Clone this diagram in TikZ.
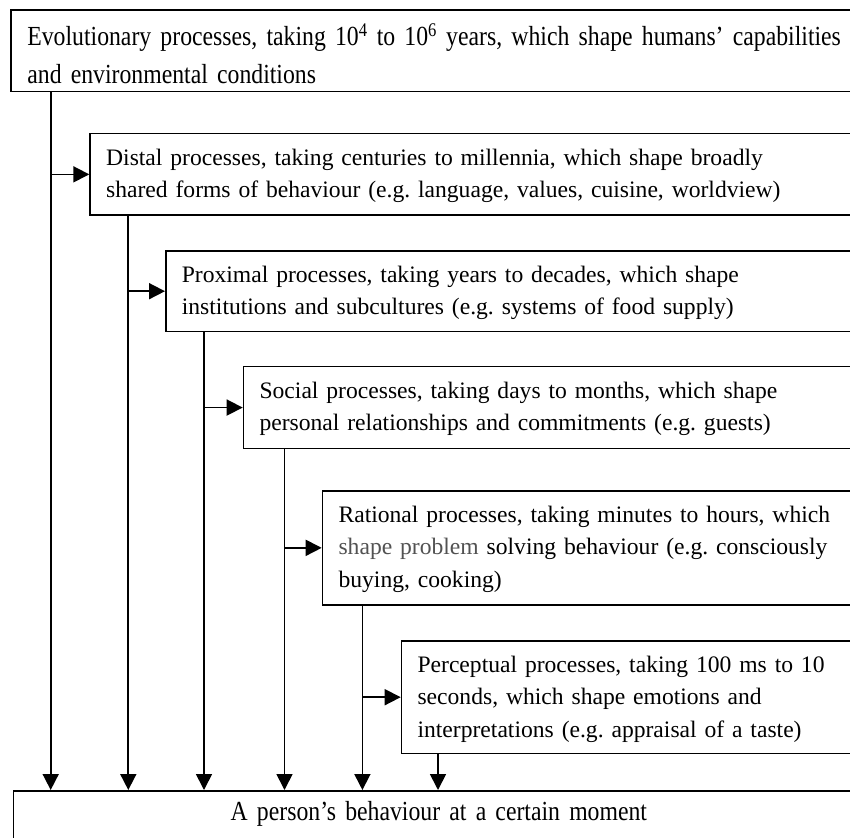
\documentclass[tikz,border=0pt]{standalone}
\usepackage{fontspec}
\setmainfont{Liberation Serif}
\newfontfamily\narrowserif[FakeStretch=0.86]{Liberation Serif}
\usetikzlibrary{arrows.meta}
\definecolor{dimtext}{rgb}{0.32,0.32,0.32}
\frenchspacing
\begin{document}
\begin{tikzpicture}[x=1pt,y=-1pt,
  procbox/.style={draw, line width=1.7pt, anchor=north west,
    inner xsep=16pt, inner ysep=0pt, text width=900pt, align=left,
    font=\fontsize{23.6pt}{32.5pt}\selectfont, text height=31.5pt},
  widebox/.style={draw, line width=1.7pt, anchor=north west,
    inner xsep=16.5pt, inner ysep=0pt,
    font=\narrowserif\fontsize{27.6pt}{38pt}\selectfont},
  link/.style={line width=1.7pt, -{Triangle[length=16pt,width=16pt]}}]
\useasboundingbox (0,0) rectangle (850,837);
\clip (0,0) rectangle (850,837);
\fill[white] (0,0) rectangle (850,837);

% the six levels of processes, from slowest to fastest
\node[widebox, text width=900pt, align=left, text height=35pt, text depth=46.2pt]
  (b1) at (10,9.5)
  {Evolutionary processes, taking 10\textsuperscript{4} to 10\textsuperscript{6} years, which shape humans’ capabilities\\
   and environmental conditions};
\node[procbox, text depth=50.1pt] (b2) at (89.3,132.7)
  {Distal processes, taking centuries to millennia, which shape broadly\\
   shared forms of behaviour (e.g. language, values, cuisine, worldview)};
\node[procbox, text depth=49.2pt] (b3) at (165,250)
  {Proximal processes, taking years to decades, which shape\\
   institutions and subcultures (e.g. systems of food supply)};
\node[procbox, text depth=50.5pt] (b4) at (242.7,365.7)
  {Social processes, taking days to months, which shape\\
   personal relationships and commitments (e.g. guests)};
\node[procbox, text depth=82.5pt] (b5) at (321.7,490)
  {Rational processes, taking minutes to hours, which\\
   \textcolor{dimtext}{shape problem} solving behaviour (e.g. consciously\\
   buying, cooking)};
\node[procbox, text depth=81.2pt] (b6) at (400.7,640)
  {Perceptual processes, taking 100 ms to 10\\
   seconds, which shape emotions and\\
   interpretations (e.g. appraisal of a taste)};

% the resulting behaviour
\node[widebox, text width=817.6pt, align=center, text height=30pt, text depth=80pt]
  (bot) at (12.7,790) {A person’s behaviour at a certain moment};

% each level feeds the next one and the behaviour directly
\draw[link] ([xshift=40.7pt]b1.south west) coordinate (d1) -- (d1 |- bot.north);
\draw[link] (d1 |- b2.west) -- (b2.west);
\draw[link] ([xshift=39pt]b2.south west) coordinate (d2) -- (d2 |- bot.north);
\draw[link] (d2 |- b3.west) -- (b3.west);
\draw[link] ([xshift=39pt]b3.south west) coordinate (d3) -- (d3 |- bot.north);
\draw[link] (d3 |- b4.west) -- (b4.west);
\draw[link] ([xshift=41.8pt]b4.south west) coordinate (d4) -- (d4 |- bot.north);
\draw[link] (d4 |- b5.west) -- (b5.west);
\draw[link] ([xshift=40.7pt]b5.south west) coordinate (d5) -- (d5 |- bot.north);
\draw[link] (d5 |- b6.west) -- (b6.west);
\draw[link] ([xshift=37.3pt]b6.south west) coordinate (d6) -- (d6 |- bot.north);
\end{tikzpicture}
\end{document}
